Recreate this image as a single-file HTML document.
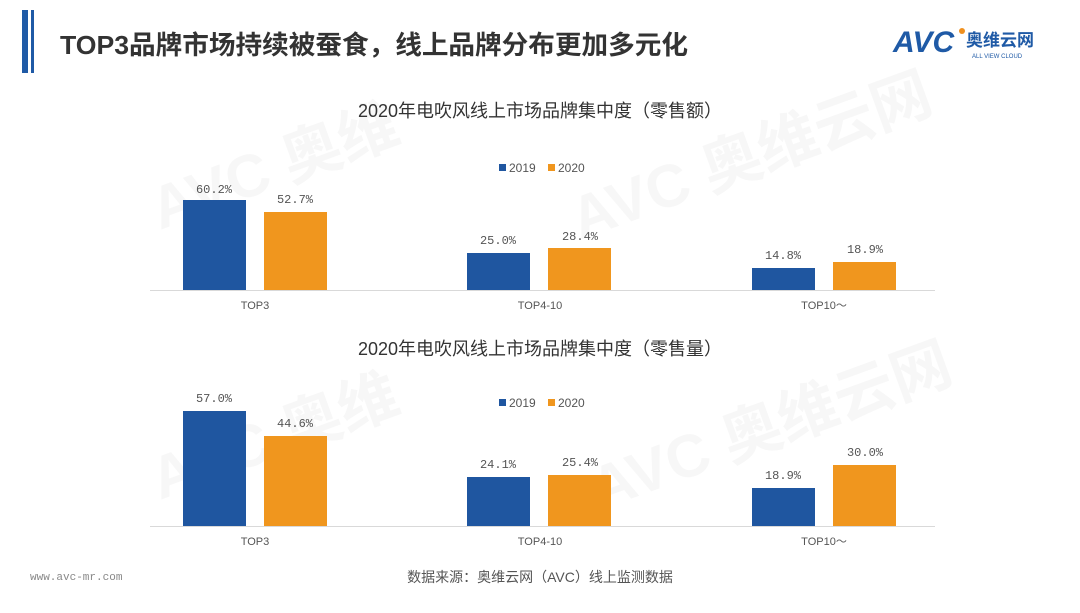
<!DOCTYPE html>
<html><head><meta charset="utf-8"><style>
body{margin:0;width:1080px;height:608px;background:#fff;overflow:hidden;font-family:"Liberation Sans","Noto Sans CJK SC",sans-serif;}
</style></head><body>
<svg width="1080" height="608" xmlns="http://www.w3.org/2000/svg" font-family="Liberation Sans, Noto Sans CJK SC, sans-serif">
<rect x="22" y="10" width="6" height="63" fill="#1f5aa6"/>
<rect x="31" y="10" width="3" height="63" fill="#1f5aa6"/>
<text x="60" y="54" font-size="26" font-weight="bold" fill="#333" textLength="628" lengthAdjust="spacingAndGlyphs">TOP3品牌市场持续被蚕食，线上品牌分布更加多元化</text>
<text x="893" y="52" font-size="30" font-weight="bold" fill="#1f5aa6" font-style="italic">AVC</text>
<circle cx="962" cy="31" r="3" fill="#f0901e"/>
<text x="966" y="46" font-size="17" font-weight="bold" fill="#1f5aa6">奥维云网</text>
<text x="972" y="58" font-size="6" fill="#1f5aa6">ALL VIEW CLOUD</text>

<g fill="#000" opacity="0.035" font-weight="bold" font-size="60">
<text x="160" y="230" transform="rotate(-20 160 230)">AVC 奥维</text>
<text x="580" y="240" transform="rotate(-20 580 240)">AVC 奥维云网</text>
<text x="160" y="500" transform="rotate(-20 160 500)">AVC 奥维</text>
<text x="600" y="510" transform="rotate(-20 600 510)">AVC 奥维云网</text>
</g>

<g font-size="18" fill="#333" text-anchor="middle">
<text x="540" y="117">2020年电吹风线上市场品牌集中度（零售额）</text>
<text x="540" y="355">2020年电吹风线上市场品牌集中度（零售量）</text>
</g>

<g font-size="12" fill="#555">
<rect x="499" y="164" width="7" height="7" fill="#1f56a0"/><text x="509" y="172">2019</text>
<rect x="548" y="164" width="7" height="7" fill="#f0961e"/><text x="558" y="172">2020</text>
<rect x="499" y="399" width="7" height="7" fill="#1f56a0"/><text x="509" y="407">2019</text>
<rect x="548" y="399" width="7" height="7" fill="#f0961e"/><text x="558" y="407">2020</text>
</g>

<line x1="150" y1="290.5" x2="935" y2="290.5" stroke="#d9d9d9"/>
<line x1="150" y1="526.5" x2="935" y2="526.5" stroke="#d9d9d9"/>

<g fill="#1f56a0">
<rect x="183" y="200" width="63" height="90"/>
<rect x="467" y="253" width="63" height="37"/>
<rect x="752" y="268" width="63" height="22"/>
<rect x="183" y="411" width="63" height="115"/>
<rect x="467" y="477" width="63" height="49"/>
<rect x="752" y="488" width="63" height="38"/>
</g>
<g fill="#f0961e">
<rect x="264" y="212" width="63" height="78"/>
<rect x="548" y="248" width="63" height="42"/>
<rect x="833" y="262" width="63" height="28"/>
<rect x="264" y="436" width="63" height="90"/>
<rect x="548" y="475" width="63" height="51"/>
<rect x="833" y="465" width="63" height="61"/>
</g>

<g font-size="12" fill="#555" text-anchor="middle" font-family="Liberation Mono, monospace">
<text x="214" y="193">60.2%</text><text x="295" y="203">52.7%</text>
<text x="498" y="244">25.0%</text><text x="580" y="240">28.4%</text>
<text x="783" y="259">14.8%</text><text x="865" y="253">18.9%</text>
<text x="214" y="402">57.0%</text><text x="295" y="427">44.6%</text>
<text x="498" y="468">24.1%</text><text x="580" y="466">25.4%</text>
<text x="783" y="479">18.9%</text><text x="865" y="456">30.0%</text>
</g>
<g font-size="11" fill="#555" text-anchor="middle">
<text x="255" y="309">TOP3</text><text x="540" y="309">TOP4-10</text><text x="824" y="309">TOP10～</text>
<text x="255" y="545">TOP3</text><text x="540" y="545">TOP4-10</text><text x="824" y="545">TOP10～</text>
</g>

<text x="30" y="580" font-size="11" fill="#888" font-family="Liberation Mono, monospace">www.avc-mr.com</text>
<text x="540" y="582" font-size="14" fill="#555" text-anchor="middle">数据来源：奥维云网（AVC）线上监测数据</text>
</svg>
</body></html>
